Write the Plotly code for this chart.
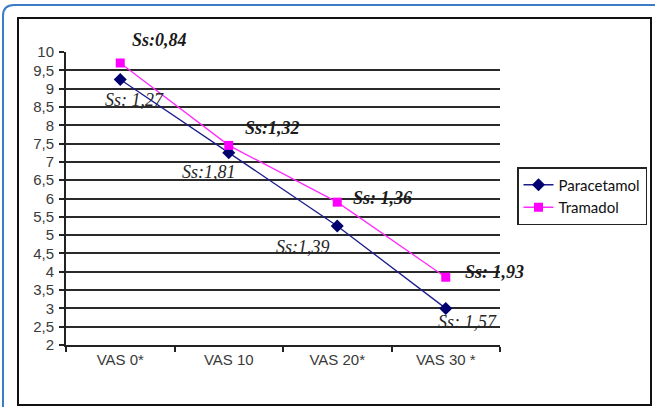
import plotly.graph_objects as go

categories = ["VAS 0*", "VAS 10", "VAS 20*", "VAS 30 *"]
paracetamol = [9.25, 7.25, 5.25, 3.0]
tramadol = [9.7, 7.45, 5.9, 3.85]
paracetamol_sd = ["Ss: 1,27", "Ss:1,81", "Ss:1,39", "Ss: 1,57"]
tramadol_sd = ["Ss:0,84", "Ss:1,32", "Ss: 1,36", "Ss: 1,93"]

# label offsets in pixels (style only)
para_shift = [(14, -21), (-20, -19), (-34, -21), (22, -14)]
tram_shift = [(39, 23), (44, 17), (45, 4), (49, 5)]

fig = go.Figure()
fig.add_trace(go.Scatter(
    x=categories, y=paracetamol, name="Paracetamol", mode="lines+markers",
    line=dict(color="#1c1c8c", width=1.3),
    marker=dict(symbol="diamond", size=10, color="#00006e"),
))
fig.add_trace(go.Scatter(
    x=categories, y=tramadol, name="Tramadol", mode="lines+markers",
    line=dict(color="#ff2cff", width=1.3),
    marker=dict(symbol="square", size=9, color="#ff00ff"),
))

annotations = []
for c, v, t, (dx, dy) in zip(categories, paracetamol, paracetamol_sd, para_shift):
    annotations.append(dict(
        x=c, y=v, xref="x", yref="y", text="<i>" + t + "</i>", showarrow=False,
        xshift=dx, yshift=dy,
        font=dict(family="Liberation Serif", size=18, color="#262626"),
    ))
for c, v, t, (dx, dy) in zip(categories, tramadol, tramadol_sd, tram_shift):
    annotations.append(dict(
        x=c, y=v, xref="x", yref="y", text="<b><i>" + t + "</i></b>", showarrow=False,
        xshift=dx, yshift=dy,
        font=dict(family="Liberation Serif", size=18, color="#1a1a1a"),
    ))

W, H = 655, 407
L, R, T, B = 66, 155, 52, 62
pw, ph = W - L - R, H - T - B


def px(x):
    return (x - L) / pw


def py(y):
    return (H - B - y) / ph


shapes = [
    # outer black frame
    dict(type="rect", xref="paper", yref="paper",
         x0=px(18), x1=px(651), y0=py(405), y1=py(18),
         line=dict(color="#111111", width=2), layer="below"),
    # blue rounded page border
    dict(type="path", xref="paper", yref="paper",
         path=(f"M {px(3)},{py(420)} L {px(3)},{py(16)} "
               f"Q {px(3)},{py(5)} {px(14)},{py(5)} L {px(670)},{py(5)}"),
         line=dict(color="#3b7cc6", width=2), layer="below"),
]

fig.update_layout(
    width=W, height=H,
    margin=dict(l=L, r=R, t=T, b=B, autoexpand=False),
    paper_bgcolor="white", plot_bgcolor="white",
    separators=",.",
    showlegend=True,
    legend=dict(
        xref="container", yref="container",
        x=647 / W, y=1 - 167 / H, xanchor="right", yanchor="top",
        bordercolor="#222222", borderwidth=1.5, bgcolor="white",
        font=dict(family="Lato", size=15, color="#111111"),
        tracegroupgap=0, itemwidth=30,
    ),
    annotations=annotations,
    shapes=shapes,
)
fig.update_xaxes(
    type="category", range=[-0.5, 3.5],
    showline=True, linecolor="#222222", linewidth=2,
    ticks="outside", tickson="boundaries", ticklen=5, tickcolor="#222222", tickwidth=2,
    showgrid=False,
    tickfont=dict(family="Liberation Sans", size=15, color="#3a3a3a"),
)
fig.update_yaxes(
    range=[2, 10], dtick=0.5, tick0=2,
    showline=True, linecolor="#222222", linewidth=2,
    ticks="outside", ticklen=5, tickcolor="#222222", tickwidth=2,
    showgrid=True, gridcolor="#2a2a2a", gridwidth=2,
    tickfont=dict(family="Liberation Sans", size=15, color="#3a3a3a"),
    ticklabelstandoff=2,
)

fig.write_html(
    "out.html",
    config={"displayModeBar": False},
    post_script="document.body.style.margin='0';document.body.style.padding='0';",
)
